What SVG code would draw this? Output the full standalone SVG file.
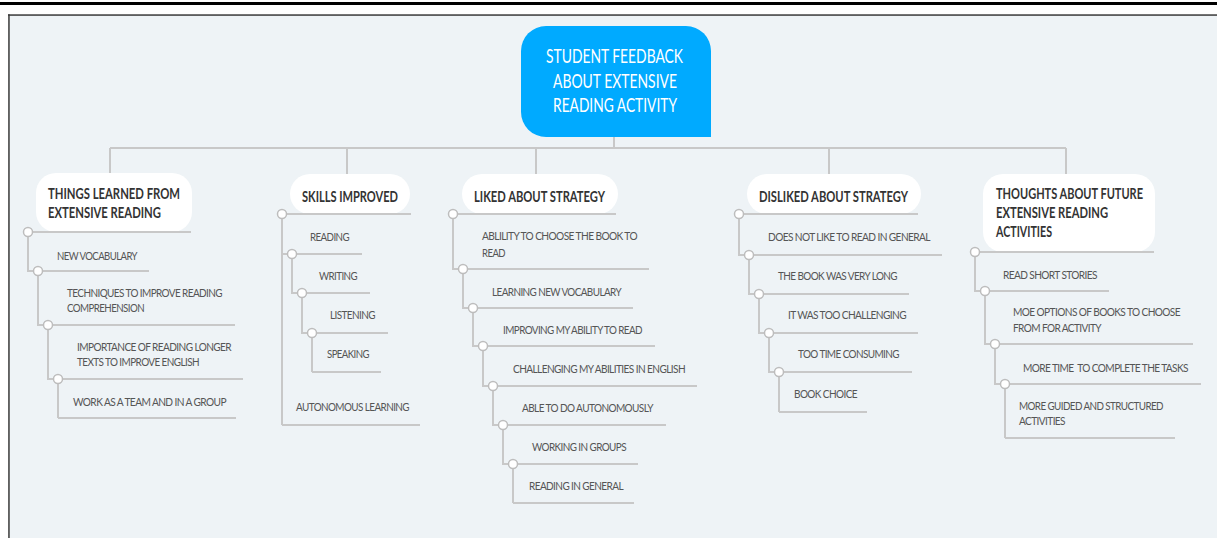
<svg xmlns="http://www.w3.org/2000/svg" width="1217" height="538" viewBox="0 0 1217 538">
<style>
.conn{stroke:#C8C8C8;stroke-width:2;fill:none}
.ul{stroke:#C8C8C8;stroke-width:2;fill:none}
.dot{fill:#FFFFFF;stroke:#BDBDBD;stroke-width:1.5}
.box{fill:#FFFFFF}
.title{font-family:Lato,"Open Sans","Liberation Sans",sans-serif;font-size:14.5px;font-weight:700;fill:#333333}
.sub{font-family:Lato,"Open Sans","Liberation Sans",sans-serif;font-size:12px;letter-spacing:-0.7px;fill:#555555}
.center{font-family:Lato,"Open Sans","Liberation Sans",sans-serif;font-size:19px;fill:#FFFFFF}
</style>
<rect x="0" y="0" width="1217" height="538" fill="#FFFFFF"/>
<rect x="9" y="15" width="1208" height="523" fill="#EEF3F6"/>
<rect x="0" y="2" width="1217" height="3" fill="#000000"/>
<rect x="8" y="14.3" width="1209" height="1.5" fill="#3A3A3A"/>
<rect x="8.2" y="14.3" width="1.5" height="524" fill="#3A3A3A"/>

<g id="connectors">
  <path class="conn" d="M614,137 V148 M110,148 H1066 M110,148 V173 M347,148 V174 M536,148 V174 M829,148 V174 M1066,148 V174"/>
  <path class="conn" d="M28,232 V271 H38 M38,271 V325 H48 M48,325 V379 H58 M58,379 V418"/>
  <path class="conn" d="M282,214 V425 M282,254 H292 M292,254 V293 H302 M302,293 V333 H312 M312,333 V372"/>
  <path class="conn" d="M453,214 V269 H463 M463,269 V308 H473 M473,308 V346 H483 M483,346 V386 H493 M493,386 V425 H503 M503,425 V464 H513 M513,464 V503"/>
  <path class="conn" d="M739,214 V255 H749 M749,255 V294 H759 M759,294 V333 H769 M769,333 V372 H779 M779,372 V412"/>
  <path class="conn" d="M975,252 V291 H985 M985,291 V344 H995 M995,344 V384 H1005 M1005,384 V438"/>
</g>

<g id="root">
  <path d="M546,26 H686 A25,25 0 0 1 711,51 V137 H546 A25,25 0 0 1 521,112 V51 A25,25 0 0 1 546,26 Z" fill="#00AAFF"/>
  <text class="center" x="546" y="62.5" textLength="137" lengthAdjust="spacingAndGlyphs">STUDENT FEEDBACK</text>
  <text class="center" x="553" y="87.5" textLength="124" lengthAdjust="spacingAndGlyphs">ABOUT EXTENSIVE</text>
  <text class="center" x="553" y="112" textLength="124" lengthAdjust="spacingAndGlyphs">READING ACTIVITY</text>
</g>

<!-- Column 1 -->
<g id="things-learned">
  <rect class="box" x="36" y="173" width="156" height="59" rx="20"/>
  <text class="title" x="48" y="199" textLength="132" lengthAdjust="spacingAndGlyphs">THINGS LEARNED FROM</text>
  <text class="title" x="48" y="218" textLength="113" lengthAdjust="spacingAndGlyphs">EXTENSIVE READING</text>
  <path class="ul" d="M28,232 H191"/>
  <circle class="dot" cx="28" cy="232" r="4.5"/>
</g>
<g id="new-vocabulary">
  <text class="sub" x="57" y="259.5" textLength="80" lengthAdjust="spacingAndGlyphs">NEW VOCABULARY</text>
  <path class="ul" d="M38,271 H149"/>
  <circle class="dot" cx="38" cy="271" r="4.5"/>
</g>
<g id="techniques">
  <text class="sub" x="67" y="297.3" textLength="155" lengthAdjust="spacingAndGlyphs">TECHNIQUES TO IMPROVE READING</text>
  <text class="sub" x="67" y="312.3" textLength="77" lengthAdjust="spacingAndGlyphs">COMPREHENSION</text>
  <path class="ul" d="M48,325 H235"/>
  <circle class="dot" cx="48" cy="325" r="4.5"/>
</g>
<g id="importance">
  <text class="sub" x="77" y="350.5" textLength="154" lengthAdjust="spacingAndGlyphs">IMPORTANCE OF READING LONGER</text>
  <text class="sub" x="77" y="366" textLength="122" lengthAdjust="spacingAndGlyphs">TEXTS TO IMPROVE ENGLISH</text>
  <path class="ul" d="M58,379 H243"/>
  <circle class="dot" cx="58" cy="379" r="4.5"/>
</g>
<g id="work-team">
  <text class="sub" x="73" y="405.5" textLength="153" lengthAdjust="spacingAndGlyphs">WORK AS A TEAM AND IN A GROUP</text>
  <path class="ul" d="M58,418 H236"/>
</g>

<!-- Column 2 -->
<g id="skills-improved">
  <rect class="box" x="290" y="174" width="120" height="40" rx="20"/>
  <text class="title" x="302" y="201.5" textLength="96" lengthAdjust="spacingAndGlyphs">SKILLS IMPROVED</text>
  <path class="ul" d="M282,214 H411"/>
  <circle class="dot" cx="282" cy="214" r="4.5"/>
</g>
<g id="reading">
  <text class="sub" x="310" y="241.3" textLength="39" lengthAdjust="spacingAndGlyphs">READING</text>
  <path class="ul" d="M292,254 H362"/>
  <circle class="dot" cx="292" cy="254" r="4.5"/>
</g>
<g id="writing">
  <text class="sub" x="319" y="280.3" textLength="38" lengthAdjust="spacingAndGlyphs">WRITING</text>
  <path class="ul" d="M302,293 H370"/>
  <circle class="dot" cx="302" cy="293" r="4.5"/>
</g>
<g id="listening">
  <text class="sub" x="330" y="319.3" textLength="45" lengthAdjust="spacingAndGlyphs">LISTENING</text>
  <path class="ul" d="M312,333 H388"/>
  <circle class="dot" cx="312" cy="333" r="4.5"/>
</g>
<g id="speaking">
  <text class="sub" x="327" y="358.3" textLength="42" lengthAdjust="spacingAndGlyphs">SPEAKING</text>
  <path class="ul" d="M312,372 H381"/>
</g>
<g id="autonomous-learning">
  <text class="sub" x="296" y="411.3" textLength="113" lengthAdjust="spacingAndGlyphs">AUTONOMOUS LEARNING</text>
  <path class="ul" d="M282,425 H420"/>
</g>

<!-- Column 3 -->
<g id="liked">
  <rect class="box" x="462" y="174" width="156" height="40" rx="20"/>
  <text class="title" x="474" y="201.5" textLength="131" lengthAdjust="spacingAndGlyphs">LIKED ABOUT STRATEGY</text>
  <path class="ul" d="M453,214 H616"/>
  <circle class="dot" cx="453" cy="214" r="4.5"/>
</g>
<g id="ability-choose">
  <text class="sub" x="482" y="240.3" textLength="155" lengthAdjust="spacingAndGlyphs">ABLILITY TO CHOOSE THE BOOK TO</text>
  <text class="sub" x="482" y="257.3" textLength="23" lengthAdjust="spacingAndGlyphs">READ</text>
  <path class="ul" d="M463,269 H649"/>
  <circle class="dot" cx="463" cy="269" r="4.5"/>
</g>
<g id="learning-vocab">
  <text class="sub" x="492" y="296.3" textLength="129" lengthAdjust="spacingAndGlyphs">LEARNING NEW VOCABULARY</text>
  <path class="ul" d="M473,308 H633"/>
  <circle class="dot" cx="473" cy="308" r="4.5"/>
</g>
<g id="improving">
  <text class="sub" x="503" y="334.3" textLength="139" lengthAdjust="spacingAndGlyphs">IMPROVING MY ABILITY TO READ</text>
  <path class="ul" d="M483,346 H655"/>
  <circle class="dot" cx="483" cy="346" r="4.5"/>
</g>
<g id="challenging">
  <text class="sub" x="513" y="373.3" textLength="172" lengthAdjust="spacingAndGlyphs">CHALLENGING MY ABILITIES IN ENGLISH</text>
  <path class="ul" d="M493,386 H697"/>
  <circle class="dot" cx="493" cy="386" r="4.5"/>
</g>
<g id="able-autonomously">
  <text class="sub" x="522" y="412.3" textLength="131" lengthAdjust="spacingAndGlyphs">ABLE TO DO AUTONOMOUSLY</text>
  <path class="ul" d="M503,425 H666"/>
  <circle class="dot" cx="503" cy="425" r="4.5"/>
</g>
<g id="working-groups">
  <text class="sub" x="532" y="451.3" textLength="94" lengthAdjust="spacingAndGlyphs">WORKING IN GROUPS</text>
  <path class="ul" d="M513,464 H638"/>
  <circle class="dot" cx="513" cy="464" r="4.5"/>
</g>
<g id="reading-general">
  <text class="sub" x="529" y="490.3" textLength="94" lengthAdjust="spacingAndGlyphs">READING IN GENERAL</text>
  <path class="ul" d="M513,503 H634"/>
</g>

<!-- Column 4 -->
<g id="disliked">
  <rect class="box" x="747" y="174" width="174" height="40" rx="20"/>
  <text class="title" x="759" y="201.5" textLength="149" lengthAdjust="spacingAndGlyphs">DISLIKED ABOUT STRATEGY</text>
  <path class="ul" d="M739,214 H918"/>
  <circle class="dot" cx="739" cy="214" r="4.5"/>
</g>
<g id="does-not-like">
  <text class="sub" x="768" y="241.3" textLength="162" lengthAdjust="spacingAndGlyphs">DOES NOT LIKE TO READ IN GENERAL</text>
  <path class="ul" d="M749,255 H942"/>
  <circle class="dot" cx="749" cy="255" r="4.5"/>
</g>
<g id="book-long">
  <text class="sub" x="778" y="280.3" textLength="119" lengthAdjust="spacingAndGlyphs">THE BOOK WAS VERY LONG</text>
  <path class="ul" d="M759,294 H909"/>
  <circle class="dot" cx="759" cy="294" r="4.5"/>
</g>
<g id="too-challenging">
  <text class="sub" x="788" y="319.3" textLength="118" lengthAdjust="spacingAndGlyphs">IT WAS TOO CHALLENGING</text>
  <path class="ul" d="M769,333 H918"/>
  <circle class="dot" cx="769" cy="333" r="4.5"/>
</g>
<g id="time-consuming">
  <text class="sub" x="798" y="358.3" textLength="101" lengthAdjust="spacingAndGlyphs">TOO TIME CONSUMING</text>
  <path class="ul" d="M779,372 H912"/>
  <circle class="dot" cx="779" cy="372" r="4.5"/>
</g>
<g id="book-choice">
  <text class="sub" x="794" y="398.3" textLength="63" lengthAdjust="spacingAndGlyphs">BOOK CHOICE</text>
  <path class="ul" d="M779,412 H867"/>
</g>

<!-- Column 5 -->
<g id="thoughts">
  <rect class="box" x="983" y="174" width="172" height="78" rx="20"/>
  <text class="title" x="996" y="199" textLength="147" lengthAdjust="spacingAndGlyphs">THOUGHTS ABOUT FUTURE</text>
  <text class="title" x="996" y="218" textLength="112" lengthAdjust="spacingAndGlyphs">EXTENSIVE READING</text>
  <text class="title" x="996" y="237.3" textLength="56" lengthAdjust="spacingAndGlyphs">ACTIVITIES</text>
  <path class="ul" d="M975,252 H1154"/>
  <circle class="dot" cx="975" cy="252" r="4.5"/>
</g>
<g id="short-stories">
  <text class="sub" x="1003" y="279.3" textLength="94" lengthAdjust="spacingAndGlyphs">READ SHORT STORIES</text>
  <path class="ul" d="M985,291 H1109"/>
  <circle class="dot" cx="985" cy="291" r="4.5"/>
</g>
<g id="more-options">
  <text class="sub" x="1013" y="316.3" textLength="167" lengthAdjust="spacingAndGlyphs">MOE OPTIONS OF BOOKS TO CHOOSE</text>
  <text class="sub" x="1013" y="332.3" textLength="88" lengthAdjust="spacingAndGlyphs">FROM FOR ACTIVITY</text>
  <path class="ul" d="M995,344 H1193"/>
  <circle class="dot" cx="995" cy="344" r="4.5"/>
</g>
<g id="more-time">
  <text class="sub" x="1023" y="372.3" textLength="165" lengthAdjust="spacingAndGlyphs" style="white-space:pre">MORE TIME  TO COMPLETE THE TASKS</text>
  <path class="ul" d="M1005,384 H1201"/>
  <circle class="dot" cx="1005" cy="384" r="4.5"/>
</g>
<g id="more-guided">
  <text class="sub" x="1019" y="410.3" textLength="144" lengthAdjust="spacingAndGlyphs">MORE GUIDED AND STRUCTURED</text>
  <text class="sub" x="1019" y="425.3" textLength="46" lengthAdjust="spacingAndGlyphs">ACTIVITIES</text>
  <path class="ul" d="M1005,438 H1175"/>
</g>
</svg>
